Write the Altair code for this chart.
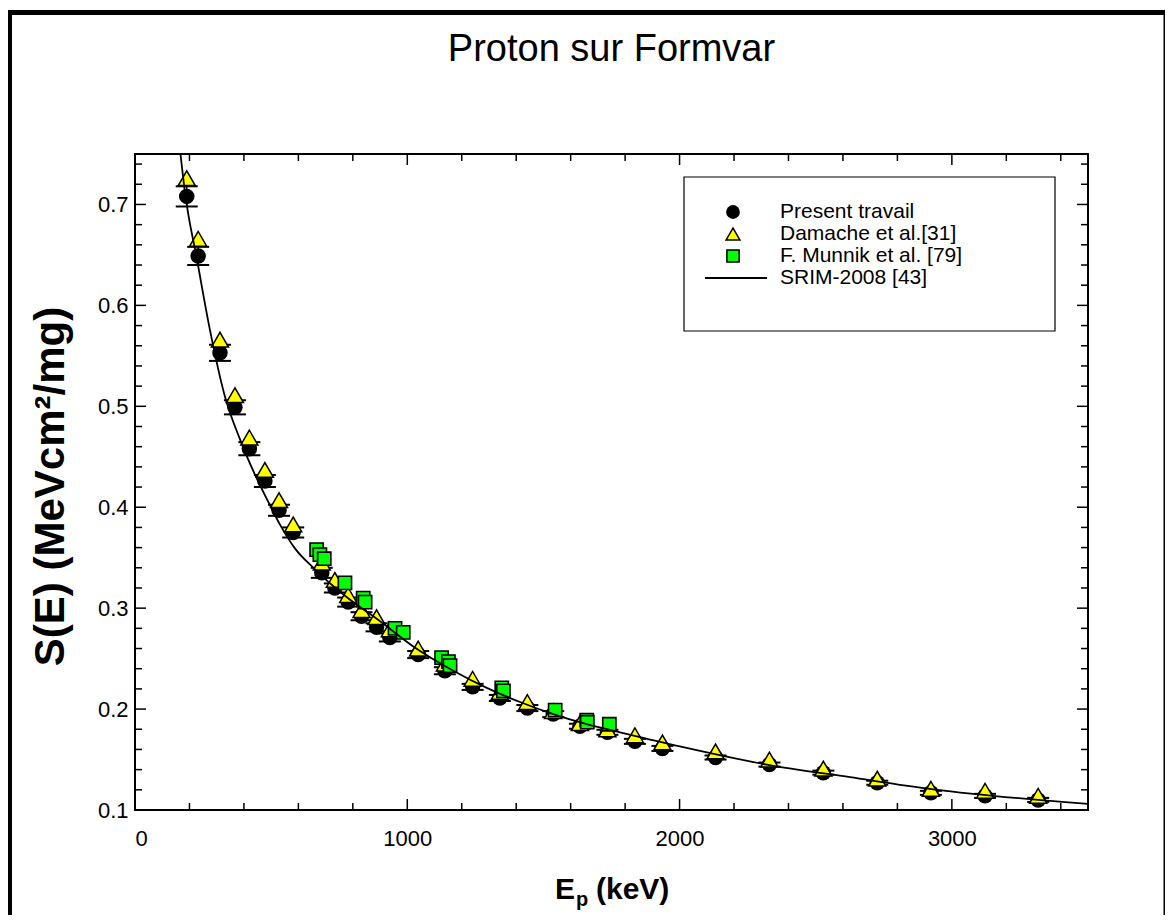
import altair as alt
import pandas as pd

# ---------------- data ----------------
E_present = [190, 232, 312, 367, 420, 477, 529, 581, 686, 734, 783, 832, 887, 936,
             1040, 1138, 1240, 1340, 1441, 1536, 1634, 1735, 1836, 1937, 2132, 2330,
             2528, 2726, 2923, 3122, 3317]
S_present = [0.708, 0.649, 0.553, 0.499, 0.458, 0.426, 0.397, 0.375, 0.335, 0.320, 0.306,
             0.292, 0.281, 0.271, 0.254, 0.238, 0.222, 0.211, 0.201, 0.195, 0.183, 0.177,
             0.168, 0.161, 0.152, 0.145, 0.137, 0.127, 0.117, 0.114, 0.110]
err_present = [0.010, 0.009, 0.008, 0.007, 0.0065, 0.006, 0.0055, 0.005, 0.005, 0.0045,
               0.0045, 0.004, 0.004, 0.004, 0.0035, 0.0035, 0.003, 0.003, 0.003, 0.003,
               0.0025, 0.0025, 0.0025, 0.0025, 0.002, 0.002, 0.002, 0.002, 0.002, 0.002, 0.002]

E_damache = [190, 232, 312, 367, 420, 477, 529, 581, 686, 734, 783, 832, 887, 936,
             1040, 1138, 1240, 1340, 1441, 1536, 1634, 1735, 1836, 1937, 2132, 2330,
             2528, 2726, 2923, 3122, 3317]
S_damache = [0.726, 0.666, 0.566, 0.511, 0.469, 0.437, 0.407, 0.383, 0.345, 0.328, 0.313,
             0.298, 0.291, 0.279, 0.260, 0.245, 0.230, 0.217, 0.207, 0.198, 0.186, 0.180,
             0.174, 0.167, 0.158, 0.150, 0.141, 0.131, 0.121, 0.119, 0.114]

E_munnik = [667, 679, 695, 771, 838, 845, 955, 985, 1126, 1151, 1157, 1347, 1353,
            1543, 1659, 1661, 1742]
S_munnik = [0.358, 0.353, 0.349, 0.325, 0.310, 0.306, 0.280, 0.276, 0.251, 0.247, 0.243,
            0.221, 0.218, 0.199, 0.189, 0.187, 0.185]

E_srim = [167, 184, 228, 275, 330, 386, 441, 490, 532, 588, 655, 777, 900, 1022, 1169,
          1292, 1414, 1536, 1659, 1781, 2001, 2320, 2626, 2932, 3500]
S_srim = [0.750, 0.711, 0.645, 0.576, 0.510, 0.467, 0.432, 0.405, 0.383, 0.359, 0.340,
          0.311, 0.287, 0.262, 0.238, 0.221, 0.207, 0.195, 0.185, 0.177, 0.163, 0.145,
          0.1325, 0.1205, 0.106]

x_labels = [0, 1000, 2000, 3000]
y_labels = [0.1, 0.2, 0.3, 0.4, 0.5, 0.6, 0.7]
x_major_ticks = [1000, 2000, 3000]
x_minor_ticks = [200, 400, 600, 800, 1200, 1400, 1600, 1800, 2200, 2400, 2600, 2800,
                 3200, 3400]
y_major_ticks = [0.2, 0.3, 0.4, 0.5, 0.6, 0.7]
y_minor_ticks = [0.12, 0.14, 0.16, 0.18, 0.22, 0.24, 0.26, 0.28, 0.32, 0.34, 0.36, 0.38,
                 0.42, 0.44, 0.46, 0.48, 0.52, 0.54, 0.56, 0.58, 0.62, 0.64, 0.66, 0.68,
                 0.72, 0.74]

legend_labels = ["Present travail", "Damache et al.[31]", "F. Munnik et al. [79]",
                 "SRIM-2008 [43]"]
title_text = "Proton sur Formvar"
y_title = "S(E) (MeVcm²/mg)"

# ---------------- layout ----------------
W, H = 953, 656
FONT = "Liberation Sans"
LABEL_SIZE = 22

xs = alt.Scale(domain=[0, 3500], nice=False, zero=False)
ys = alt.Scale(domain=[0.1, 0.75], nice=False, zero=False)

x_axis = alt.Axis(values=x_labels, format="d", ticks=False, tickSize=0, domain=False,
                  grid=False, labelFont=FONT, labelFontSize=LABEL_SIZE, labelColor="black",
                  labelPadding=18, title=None)
y_axis = alt.Axis(values=y_labels, format=".1f", ticks=False, tickSize=0, domain=False,
                  grid=False, labelFont=FONT, labelFontSize=LABEL_SIZE, labelColor="black",
                  labelPadding=7, title=y_title, titleFont=FONT, titleFontSize=42,
                  titleFontWeight="bold", titleColor="black", titleX=-85, titleY=H / 2 + 4,
                  titleAngle=270, titleAlign="center", titleBaseline="middle")

df_p = pd.DataFrame({"E": E_present, "S": S_present, "err": err_present})
df_p["lo"] = df_p["S"] - df_p["err"]
df_p["hi"] = df_p["S"] + df_p["err"]
df_d = pd.DataFrame({"E": E_damache, "S": S_damache})
df_m = pd.DataFrame({"E": E_munnik, "S": S_munnik})
df_s = pd.DataFrame({"E": E_srim, "S": S_srim})

X = alt.X("E:Q", scale=xs, axis=x_axis)
Y = alt.Y("S:Q", scale=ys, axis=y_axis)

# ticks (inward, all four sides)
def xticks(vals, length):
    d = pd.DataFrame({"E": vals})
    b = alt.Chart(d).mark_rule(color="black", strokeWidth=1.5).encode(
        x=X, y=alt.value(H), y2=alt.value(H - length))
    t = alt.Chart(d).mark_rule(color="black", strokeWidth=1.5).encode(
        x=X, y=alt.value(0), y2=alt.value(length))
    return [b, t]

def yticks(vals, length):
    d = pd.DataFrame({"S": vals})
    l = alt.Chart(d).mark_rule(color="black", strokeWidth=1.5).encode(
        y=Y, x=alt.value(0), x2=alt.value(length))
    r = alt.Chart(d).mark_rule(color="black", strokeWidth=1.5).encode(
        y=Y, x=alt.value(W), x2=alt.value(W - length))
    return [l, r]

tick_layers = xticks(x_major_ticks, 11) + xticks(x_minor_ticks, 7) + \
    yticks(y_major_ticks, 11) + yticks(y_minor_ticks, 7)

err_rule = alt.Chart(df_p).mark_rule(color="black", strokeWidth=1.5).encode(
    x=X, y=alt.Y("lo:Q", scale=ys, axis=y_axis), y2="hi:Q")
cap_lo = alt.Chart(df_p).mark_tick(color="black", thickness=2, size=22,
                                   orient="horizontal", opacity=1).encode(
    x=X, y=alt.Y("lo:Q", scale=ys, axis=y_axis))
cap_hi = alt.Chart(df_p).mark_tick(color="black", thickness=2, size=22,
                                   orient="horizontal", opacity=1).encode(
    x=X, y=alt.Y("hi:Q", scale=ys, axis=y_axis))

circles = alt.Chart(df_p).mark_circle(size=240, color="black", opacity=1).encode(x=X, y=Y)
triangles = alt.Chart(df_d).mark_point(shape="triangle-up", filled=True, fill="#ffff00",
                                       stroke="black", strokeWidth=1.5, size=290,
                                       opacity=1).encode(x=X, y=Y)
squares = alt.Chart(df_m).mark_point(shape="square", filled=True, fill="#00ff00",
                                     stroke="black", strokeWidth=1.6, size=175,
                                     opacity=1).encode(x=X, y=Y)
srim = alt.Chart(df_s).mark_line(color="black", strokeWidth=1.8, interpolate="monotone",
                                 clip=True).encode(x=X, y=Y)

one = pd.DataFrame({"k": [0]})

# outer frame of the figure
outer = alt.Chart(one).mark_rect(fillOpacity=0, stroke="black", strokeWidth=5,
                                 clip=False).encode(
    x=alt.value(-125.5), x2=alt.value(1031), y=alt.value(-141.5), y2=alt.value(790))

title = alt.Chart(one).mark_text(font=FONT, fontSize=38, color="black",
                                 baseline="middle", align="center").encode(
    x=alt.value(W / 2), y=alt.value(-104), text=alt.value(title_text))

# x axis title  E_p (keV)
xt_E = alt.Chart(one).mark_text(font=FONT, fontSize=30, fontWeight="bold", color="black",
                                align="left", baseline="alphabetic").encode(
    x=alt.value(420), y=alt.value(745), text=alt.value("E"))
xt_p = alt.Chart(one).mark_text(font=FONT, fontSize=20, fontWeight="bold", color="black",
                                align="left", baseline="alphabetic").encode(
    x=alt.value(441), y=alt.value(752), text=alt.value("p"))
xt_k = alt.Chart(one).mark_text(font=FONT, fontSize=30, fontWeight="bold", color="black",
                                align="left", baseline="alphabetic").encode(
    x=alt.value(461), y=alt.value(745), text=alt.value("(keV)"))

# legend
LX0, LX1, LY0, LY1 = 549, 920, 23, 177
SYM_X, TXT_X = 598, 645
ROWS = [58, 80, 102, 124]
leg_box = alt.Chart(one).mark_rect(fill="white", stroke="black", strokeWidth=1.2).encode(
    x=alt.value(LX0), x2=alt.value(LX1), y=alt.value(LY0), y2=alt.value(LY1))
leg_c = alt.Chart(one).mark_circle(size=190, color="black", opacity=1).encode(
    x=alt.value(SYM_X), y=alt.value(ROWS[0]))
leg_t = alt.Chart(one).mark_point(shape="triangle-up", filled=True, fill="#ffff00",
                                  stroke="black", strokeWidth=1.5, size=190,
                                  opacity=1).encode(x=alt.value(SYM_X), y=alt.value(ROWS[1]))
leg_s = alt.Chart(one).mark_point(shape="square", filled=True, fill="#00ff00",
                                  stroke="black", strokeWidth=1.5, size=150,
                                  opacity=1).encode(x=alt.value(SYM_X), y=alt.value(ROWS[2]))
leg_l = alt.Chart(one).mark_rule(color="black", strokeWidth=1.8).encode(
    x=alt.value(570), x2=alt.value(632), y=alt.value(ROWS[3]))
leg_texts = [
    alt.Chart(one).mark_text(font=FONT, fontSize=21, color="black", align="left",
                             baseline="middle").encode(
        x=alt.value(TXT_X), y=alt.value(ry), text=alt.value(lab))
    for lab, ry in zip(legend_labels, ROWS)
]

chart = alt.layer(
    outer, *tick_layers, err_rule, cap_lo, cap_hi, circles, triangles, squares, srim,
    title, xt_E, xt_p, xt_k, leg_box, leg_c, leg_t, leg_s, leg_l, *leg_texts
).properties(
    width=W, height=H,
    autosize=alt.AutoSizeParams(type="none"),
    padding={"left": 127, "top": 146, "right": 77, "bottom": 105},
).configure_view(stroke="black", strokeWidth=2)

chart.save("out.html", embed_options={"renderer": "svg", "actions": False})
